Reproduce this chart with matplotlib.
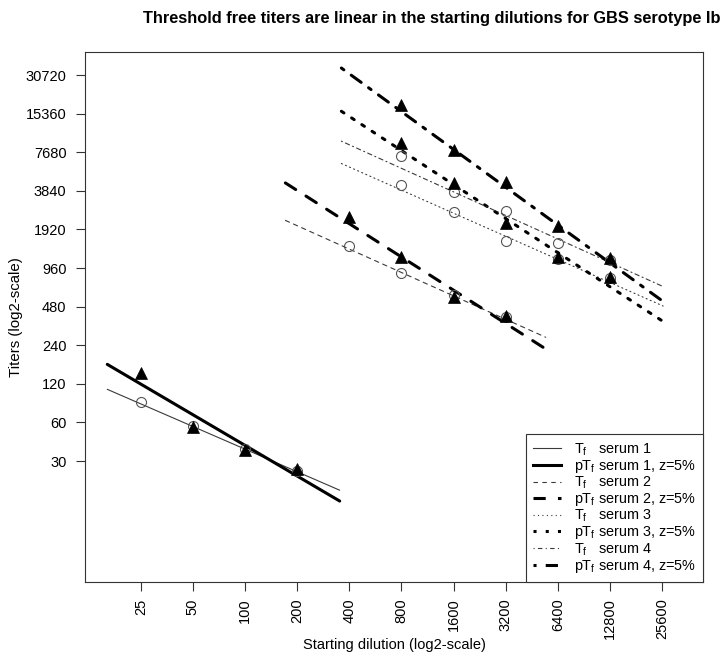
import numpy as np
import matplotlib
matplotlib.use("Agg")
import matplotlib.pyplot as plt
from matplotlib.lines import Line2D
from matplotlib.ticker import FixedLocator, FixedFormatter, NullLocator

plt.rcParams['font.family'] = ['Liberation Sans', 'DejaVu Sans']
plt.rcParams['mathtext.fontset'] = 'custom'
plt.rcParams['mathtext.rm'] = 'Liberation Sans'
plt.rcParams['mathtext.it'] = 'Liberation Sans:italic'
plt.rcParams['mathtext.bf'] = 'Liberation Sans:bold'

# ---- data -------------------------------------------------------------
# starting dilutions used for each serum
dil_s1 = [25, 50, 100, 200]
dil_s2 = [400, 800, 1600, 3200]
dil_s3 = [800, 1600, 3200, 6400, 12800]
dil_s4 = [800, 1600, 3200, 6400, 12800]

# threshold free titers (Tf) and pTf (z = 5%)
tf_s1 = [87, 56, 37, 25]
ptf_s1 = [146, 55, 36.6, 25.9]
tf_s2 = [1425, 873, 590, 400]
ptf_s2 = [2386, 1163, 573, 408]
tf_s3 = [4261, 2640, 1567, 1120, 800]
ptf_s3 = [9015, 4393, 2142, 1163, 821]
tf_s4 = [7177, 3780, 2686, 1496, 1100]
ptf_s4 = [17930, 7990, 4523, 2041, 1143]

# fitted lines: log2(titer) = intercept + slope * log2(dilution)
# order: Tf s1, pTf s1, Tf s2, pTf s2, Tf s3, pTf s3, Tf s4, pTf s4
fit_intercept = [9.109, 10.588, 15.636, 18.498, 17.693, 21.458, 18.373, 23.406]
fit_slope = [-0.586, -0.794, -0.606, -0.861, -0.598, -0.882, -0.610, -0.9795]
fit_from = [16, 16, 171, 171, 360, 360, 360, 360]
fit_to = [352, 352, 5450, 5450, 26000, 26000, 26000, 26000]

legend_labels = [
    r"T$_{\mathrm{f}}$   serum 1", r"pT$_{\mathrm{f}}$ serum 1, z=5%",
    r"T$_{\mathrm{f}}$   serum 2", r"pT$_{\mathrm{f}}$ serum 2, z=5%",
    r"T$_{\mathrm{f}}$   serum 3", r"pT$_{\mathrm{f}}$ serum 3, z=5%",
    r"T$_{\mathrm{f}}$   serum 4", r"pT$_{\mathrm{f}}$ serum 4, z=5%",
]

x_ticks = [25, 50, 100, 200, 400, 800, 1600, 3200, 6400, 12800, 25600]
y_ticks = [30, 60, 120, 240, 480, 960, 1920, 3840, 7680, 15360, 30720]

# ---- styles -----------------------------------------------------------
THIN = 0.8
THICK = 2.2
patterns = ['-', (0, (4, 4)), (0, (1, 3)), (0, (1, 3, 4, 3))]
line_styles = []
for p in patterns:
    line_styles.append(dict(lw=THIN, color='#3a3a3a', linestyle=p))
    line_styles.append(dict(lw=THICK, color='black', linestyle=p))

fig = plt.figure(figsize=(7.25, 6.59), dpi=100)
ax = fig.add_axes([85 / 725, 1 - 582 / 659, (703 - 85) / 725, (582 - 52) / 659])
ax.set_xscale('log', base=2)
ax.set_yscale('log', base=2)

# regression lines
for i in range(8):
    xs = np.array([fit_from[i], fit_to[i]], dtype=float)
    ys = 2.0 ** (fit_intercept[i] + fit_slope[i] * np.log2(xs))
    ax.plot(xs, ys, solid_capstyle='round', dash_capstyle='round',
            zorder=2, **line_styles[i])

# points
for d, tf, ptf in [(dil_s1, tf_s1, ptf_s1), (dil_s2, tf_s2, ptf_s2),
                   (dil_s3, tf_s3, ptf_s3), (dil_s4, tf_s4, ptf_s4)]:
    ax.plot(d, tf, linestyle='none', marker='o', ms=7.2, mfc='none',
            mec='#555555', mew=0.8, zorder=3)
    ax.plot(d, ptf, linestyle='none', marker='^', ms=8.0, mfc='black',
            mec='black', mew=0.5, zorder=4)

ax.set_xlim(11.9, 44170)
ax.set_ylim(3.42, 46440)

ax.xaxis.set_major_locator(FixedLocator(x_ticks))
ax.xaxis.set_major_formatter(FixedFormatter([str(v) for v in x_ticks]))
ax.xaxis.set_minor_locator(NullLocator())
ax.yaxis.set_major_locator(FixedLocator(y_ticks))
ax.yaxis.set_major_formatter(FixedFormatter([str(v) for v in y_ticks]))
ax.yaxis.set_minor_locator(NullLocator())

ax.tick_params(axis='both', direction='out', length=6.8, width=0.8,
               labelsize=10.5, color='#333333')
ax.tick_params(axis='x', labelrotation=90, pad=5)
ax.tick_params(axis='y', pad=6.5)
for s in ax.spines.values():
    s.set_linewidth(0.8)
    s.set_color('#333333')

ax.set_xlabel('Starting dilution (log2-scale)', fontsize=10.5)
ax.set_ylabel('Titers (log2-scale)', fontsize=10.8)
ax.yaxis.set_label_coords((23 - 85) / 618, 0.5)
ax.xaxis.set_label_coords(0.5, (582 - 638) / 530)

fig.text(0.595, 1 - 18 / 659,
         'Threshold free titers are linear in the starting dilutions for GBS serotype Ib',
         ha='center', va='center', fontsize=11.8, fontweight='bold')

handles = [Line2D([], [], **line_styles[i]) for i in range(8)]
leg = ax.legend(handles, legend_labels, loc='lower right',
                bbox_to_anchor=(1, 0), borderaxespad=0, fontsize=10.4,
                frameon=True, fancybox=False, framealpha=1,
                edgecolor='#333333', handlelength=1.9, handletextpad=0.9,
                labelspacing=0.0, borderpad=0.5)
leg.get_frame().set_linewidth(0.8)

fig.savefig('out.png', dpi=100)
